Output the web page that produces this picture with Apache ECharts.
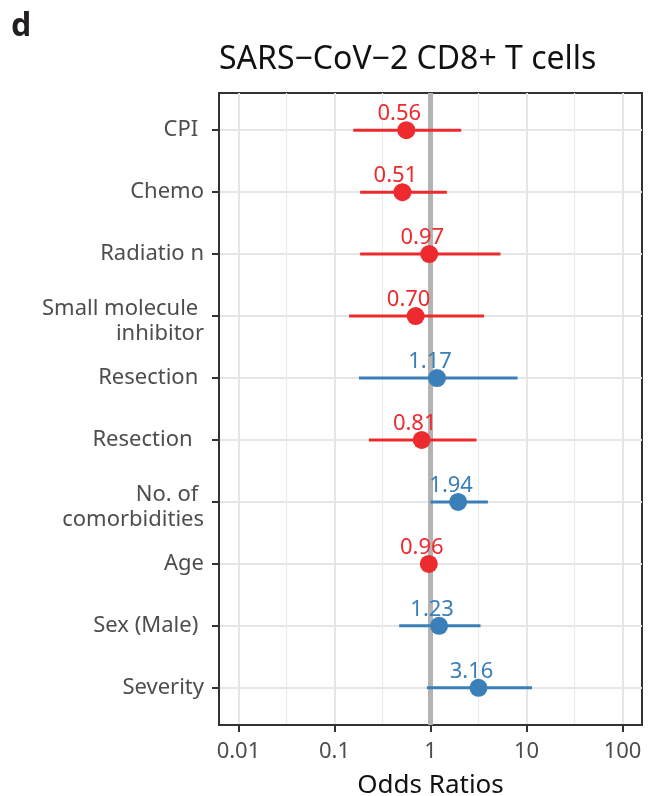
<!DOCTYPE html>
<html>
<head>
<meta charset="utf-8">
<script src="https://cdn.jsdelivr.net/npm/echarts@6/dist/echarts.min.js"></script>
<style>
  html, body { margin: 0; padding: 0; background: #ffffff; }
  #chart { width: 648px; height: 796px; }
</style>
</head>
<body>
<div id="chart"></div>
<script>
// Forest plot: odds ratios with 95% confidence intervals, top row first
const categories = [
  'CPI ',
  'Chemo',
  'Radiatio n',
  'Small molecule \ninhibitor',
  'Resection ',
  'Resection  ',
  'No. of \ncomorbidities',
  'Age',
  'Sex (Male) ',
  'Severity'
];
const oddsRatios = [0.56, 0.51, 0.97, 0.70, 1.17, 0.81, 1.94, 0.96, 1.23, 3.16];
const ciLower    = [0.157, 0.185, 0.185, 0.142, 0.180, 0.228, 1.00, 0.93, 0.472, 0.917];
const ciUpper    = [2.09, 1.48, 5.36, 3.62, 8.06, 3.01, 3.96, 0.99, 3.32, 11.4];

// Log-scale x axis breaks
const majorBreaks = [0.01, 0.1, 1, 10, 100];
const majorLabels = ['0.01', '0.1', '1', '10', '100'];
const minorBreaks = [0.0316228, 0.316228, 3.16228, 31.6228];
const rowPositions = [0, 1, 2, 3, 4, 5, 6, 7, 8, 9];
const referenceOR = 1;

const RED = '#ED2A2E';
const BLUE = '#3A7FB8';
const FONT = 'Noto Sans';
const X_MIN = 0.00627, X_MAX = 159.5;

const colorFor = (v) => (v > 1 ? BLUE : RED);

const ciData = oddsRatios.map((v, i) => ({
  value: [ciLower[i], ciUpper[i], rowPositions[i]],
  itemStyle: { color: colorFor(v) }
}));

const pointData = oddsRatios.map((v, i) => ({
  value: [v, rowPositions[i]],
  itemStyle: { color: colorFor(v), opacity: 1 },
  label: { color: colorFor(v) }
}));

// Two-line row labels sit slightly lower than single-line ones
const rowLabel = (name) => {
  const lines = name.split('\n');
  if (lines.length === 1) return name;
  return '{first|' + lines[0] + '}\n{rest|' + lines.slice(1).join('\n') + '}';
};

const chart = echarts.init(document.getElementById('chart'), null, { renderer: 'canvas' });

chart.setOption({
  animation: false,
  backgroundColor: '#ffffff',
  title: [
    {
      text: 'd', left: 11, top: 11, padding: 0,
      textStyle: { fontFamily: FONT, fontSize: 32, fontWeight: 'bold', color: '#231f20' }
    },
    {
      text: 'SARS\u2212CoV\u22122 CD8+ T cells', left: 219, top: 44, padding: 0,
      textStyle: { fontFamily: FONT, fontSize: 32, fontWeight: 'normal', color: '#111111' }
    }
  ],
  grid: {
    left: 219, right: 6, top: 93, bottom: 71,
    outerBoundsMode: 'none', containLabel: false,
    show: true, borderColor: '#333333', borderWidth: 2, backgroundColor: 'transparent'
  },
  xAxis: [
    {
      type: 'log', logBase: 10, min: X_MIN, max: X_MAX,
      name: 'Odds Ratios', nameLocation: 'middle', nameGap: 48,
      nameTextStyle: { fontFamily: FONT, fontSize: 26, color: '#111111' },
      axisLine: { show: true, onZero: false, lineStyle: { color: '#333333', width: 2 } },
      axisTick: { show: true, length: 7, customValues: majorBreaks, lineStyle: { color: '#333333', width: 2 } },
      axisLabel: {
        customValues: majorBreaks, margin: 16,
        fontFamily: FONT, fontSize: 22, color: '#4d4d4d',
        formatter: (v) => {
          const k = majorBreaks.findIndex(b => Math.abs(Math.log10(b) - Math.log10(v)) < 1e-6);
          return k >= 0 ? majorLabels[k] : '';
        }
      },
      splitLine: { show: true, lineStyle: { color: '#e6e6e6', width: 2 } },
      minorTick: { show: false },
      minorSplitLine: { show: false }
    },
    {
      type: 'log', logBase: 10, min: X_MIN, max: X_MAX, position: 'top',
      axisLine: { show: false, onZero: false },
      axisTick: { show: false, customValues: minorBreaks },
      axisLabel: { show: false, customValues: minorBreaks },
      splitLine: { show: true, lineStyle: { color: '#ebebeb', width: 1.2 } }
    }
  ],
  yAxis: {
    type: 'value', min: -0.6, max: 9.6, inverse: true,
    axisLine: { show: true, onZero: false, lineStyle: { color: '#333333', width: 2 } },
    axisTick: { show: true, length: 7, customValues: rowPositions, lineStyle: { color: '#333333', width: 2 } },
    axisLabel: {
      customValues: rowPositions, margin: 15,
      fontFamily: FONT, fontSize: 22, color: '#4d4d4d', lineHeight: 30, align: 'right',
      formatter: (v) => rowLabel(categories[Math.round(v)] || ''),
      rich: {
        first: { fontFamily: FONT, fontSize: 22, color: '#4d4d4d', lineHeight: 30, padding: [15, 0, 0, 0] },
        rest: { fontFamily: FONT, fontSize: 22, color: '#4d4d4d', lineHeight: 30, padding: [5, 0, 0, 0] }
      }
    },
    splitLine: { show: true, lineStyle: { color: '#e6e6e6', width: 2 } }
  },
  series: [
    {
      // reference line at OR = 1
      type: 'scatter', data: [], z: 1, silent: true,
      markLine: {
        silent: true, symbol: 'none', animation: false, z: 1,
        label: { show: false },
        lineStyle: { color: '#b3b3b3', width: 5, type: 'solid', opacity: 1 },
        data: [{ xAxis: referenceOR }]
      }
    },
    {
      type: 'custom', z: 2, xAxisIndex: 0, yAxisIndex: 0,
      encode: { x: [0, 1], y: 2 },
      data: ciData,
      renderItem: (params, api) => {
        const row = api.value(2);
        const a = api.coord([api.value(0), row]);
        const b = api.coord([api.value(1), row]);
        return {
          type: 'line',
          shape: { x1: a[0], y1: a[1], x2: b[0], y2: b[1] },
          style: { stroke: api.visual('color'), lineWidth: 3 }
        };
      }
    },
    {
      type: 'scatter', z: 3, xAxisIndex: 0, yAxisIndex: 0,
      symbol: 'circle', symbolSize: 18,
      itemStyle: { opacity: 1 },
      data: pointData,
      label: {
        show: true, position: 'top', distance: -3.5, offset: [-7, 0],
        fontFamily: FONT, fontSize: 22, textBorderWidth: 0,
        formatter: (p) => p.value[0].toFixed(2)
      },
      emphasis: { disabled: true }
    }
  ]
});
</script>
</body>
</html>
